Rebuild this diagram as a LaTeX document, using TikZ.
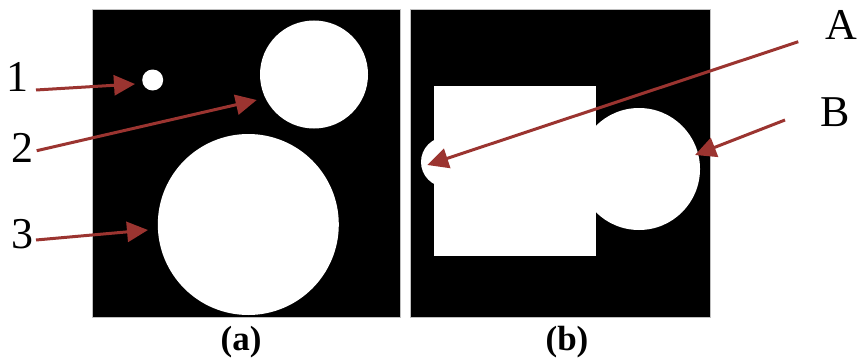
\documentclass[tikz,border=0pt]{standalone}
\usepackage{fontspec}
\setmainfont{Liberation Serif}
\usepackage{tikz}
\usetikzlibrary{arrows.meta}
\usetikzlibrary{positioning}
\tikzset{panel/.style = {fill=black, draw=gray!50, line width=0.8}}
\tikzset{blob/.style = {fill=white, circle, inner sep = 0, minimum size = #1}}
\tikzset{arr/.style = {mred, line width=3pt, -{Triangle[length=21pt, width=20pt]}}}
\tikzset{lbl/.style = {font=\fontsize{44}{44}\selectfont, inner sep = 0}}
\tikzset{sublbl/.style = {font=\fontsize{35}{35}\selectfont\bfseries, inner sep = 0}}
\definecolor{mred}{RGB}{155, 52, 48}

\begin{document}
\begin{tikzpicture}[x=1pt, y=-1pt]
      \useasboundingbox (0, 0) rectangle (858, 361);

      % (a)
      \draw [panel] (92, 9) rectangle (400, 317);
      \node [blob=21] (small) at (152.7, 80) {};
      \node [blob=108] (mid) at (314, 74.5) {};
      \node [blob=181] (big) at (248.3, 224.5) {};

      \node [lbl] (l1) at (17, 77) {1};
      \node [lbl] (l2) at (22, 148) {2};
      \node [lbl] (l3) at (23, 234) {3};
      \coordinate (s1) at (36, 90);
      \coordinate (s2) at (36.7, 150.7);
      \coordinate (s3) at (36, 240);
      \coordinate (t1) at (135, 84);
      \coordinate (t2) at (256.7, 100);
      \coordinate (t3) at (148, 230);
      \draw [arr] (s1) -- (t1);
      \draw [arr] (s2) -- (t2);
      \draw [arr] (s3) -- (t3);

      \node [sublbl] (capa) at (241, 342) {(a)};

      % (b)
      \draw [panel] (410.7, 9) rectangle (710.7, 317);
      \fill [white] (434.3, 86) rectangle (596, 256);
      \node [blob=50] (cA) at (446, 162) {};
      \node [blob=122] (cB) at (639, 169) {};

      \node [lbl] (lA) at (841, 25) {A};
      \node [lbl] (lB) at (835, 112) {B};
      \coordinate (sA) at (798.3, 41.7);
      \coordinate (sB) at (785, 120);
      \coordinate (tA) at (427.3, 165);
      \coordinate (tB) at (695, 155);
      \draw [arr] (sA) -- (tA);
      \draw [arr] (sB) -- (tB);

      \node [sublbl] (capb) at (567, 342) {(b)};
    \end{tikzpicture}
\end{document}
